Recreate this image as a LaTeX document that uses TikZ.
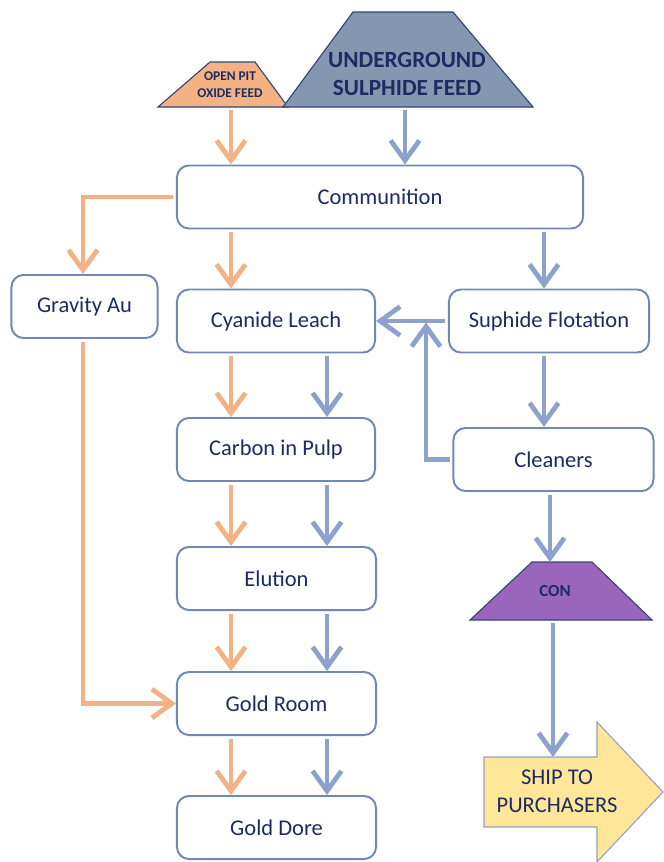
\documentclass[tikz,border=0pt]{standalone}
\usepackage{fontspec}
\setmainfont{Carlito}
\usetikzlibrary{arrows.meta}
\definecolor{navytext}{RGB}{28,44,98}
\definecolor{boxline}{RGB}{112,135,184}
\definecolor{bluearr}{RGB}{140,162,204}
\definecolor{orangearr}{RGB}{244,177,131}
\definecolor{ugfill}{RGB}{132,151,176}
\definecolor{trapline}{RGB}{52,68,115}
\definecolor{confill}{RGB}{153,102,187}
\definecolor{shipfill}{RGB}{255,230,153}
\definecolor{shipline}{RGB}{150,160,200}

\begin{document}
\begin{tikzpicture}[x=0.025cm,y=-0.025cm,>={Straight Barb[length=0.5cm,width=0.72cm]},
                    font=\fontsize{16}{20}\selectfont,text=navytext]
  \tikzstyle{unit}=[draw=boxline,line width=1.4pt,rounded corners=0.3cm,fill=white,
                    minimum height=1.575cm,align=center]
  \tikzstyle{ore}=[->,draw=orangearr,line width=3.4pt,shorten <=2pt]
  \tikzstyle{sul}=[->,draw=bluearr,line width=3.4pt,shorten <=2pt]
  \tikzstyle{feed}=[draw=trapline,line width=0.8pt]

  \useasboundingbox (0,0) rectangle (664,862);

  \draw[feed,fill=orangearr] (158,107) -- (210,62) -- (255,62) -- (288,107) -- cycle;
  \draw[feed,fill=ugfill] (283,107) -- (353,12) -- (453,12) -- (533,107) -- cycle;
  \node[font=\fontsize{9.5}{12}\selectfont\bfseries,align=center] (openpit) at (230,85) {OPEN PIT\\OXIDE FEED};
  \node[font=\fontsize{16.5}{20}\selectfont\bfseries,align=center] (underground) at (407,74) {UNDERGROUND\\SULPHIDE FEED};
  \coordinate (openbase) at (231,107);
  \coordinate (ugbase) at (405,107);

  \node[unit,minimum width=10.15cm] (comm)    at (380,197)   {Communition};
  \node[unit,minimum width=3.65cm]  (grav)    at (84.5,306.5) {Gravity Au};
  \node[unit,minimum width=4.95cm]  (leach)   at (276,321)   {Cyanide Leach};
  \node[unit,minimum width=5.0cm]   (flot)    at (549,321)   {Suphide Flotation};
  \node[unit,minimum width=4.95cm]  (carbon)  at (276,449.5) {Carbon in Pulp};
  \node[unit,minimum width=5.0cm]   (clean)   at (553.5,459.5) {Cleaners};
  \node[unit,minimum width=4.975cm] (elution) at (276.5,578.5) {Elution};
  \node[unit,minimum width=4.975cm] (groom)   at (276.5,703.5) {Gold Room};
  \node[unit,minimum width=4.975cm] (gdore)   at (276.5,827.5) {Gold Dore};

  \draw[feed,fill=confill] (532,562) -- (592,562) -- (652,620) -- (470,620) -- cycle;
  \node[font=\fontsize{12}{14}\selectfont\bfseries] (con) at (555,591) {CON};
  \coordinate (contop) at (550,562);
  \coordinate (conbase) at (553,620);

  \draw[draw=shipline,line width=0.8pt,fill=shipfill]
        (484,757) -- (597,757) -- (597,722) -- (663,792) -- (597,862) -- (597,827) -- (484,827) -- cycle;
  \node[align=center] (ship) at (557,791) {SHIP TO\\PURCHASERS};
  \coordinate (shiptop) at (553,757);

  \coordinate (ox) at (231,0);
  \coordinate (bx) at (327,0);
  \coordinate (fx) at (544,0);
  \coordinate (gx) at (83,0);
  \coordinate (rx) at (426,0);

  \draw[ore] (openbase) -- (comm.north -| openbase);
  \draw[sul] (ugbase) -- (comm.north -| ugbase);
  \draw[ore] (comm.west) -| (grav.north -| gx);
  \draw[ore] (comm.south -| ox) -- (leach.north -| ox);
  \draw[sul] (comm.south -| fx) -- (flot.north -| fx);
  \draw[sul] (flot.west) -- (leach.east);
  \draw[sul] (flot.south -| fx) -- (clean.north -| fx);
  \draw[sul] (clean.west) -| ([yshift=-1pt]flot.west -| rx);
  \foreach \a/\b in {leach/carbon,carbon/elution,elution/groom,groom/gdore}{
    \draw[ore] (\a.south -| ox) -- (\b.north -| ox);
    \draw[sul] (\a.south -| bx) -- (\b.north -| bx);
  }
  \draw[ore] (grav.south -| gx) |- (groom.west);
  \draw[sul] (clean.south -| contop) -- (contop);
  \draw[sul] (conbase) -- (shiptop);
\end{tikzpicture}
\end{document}
